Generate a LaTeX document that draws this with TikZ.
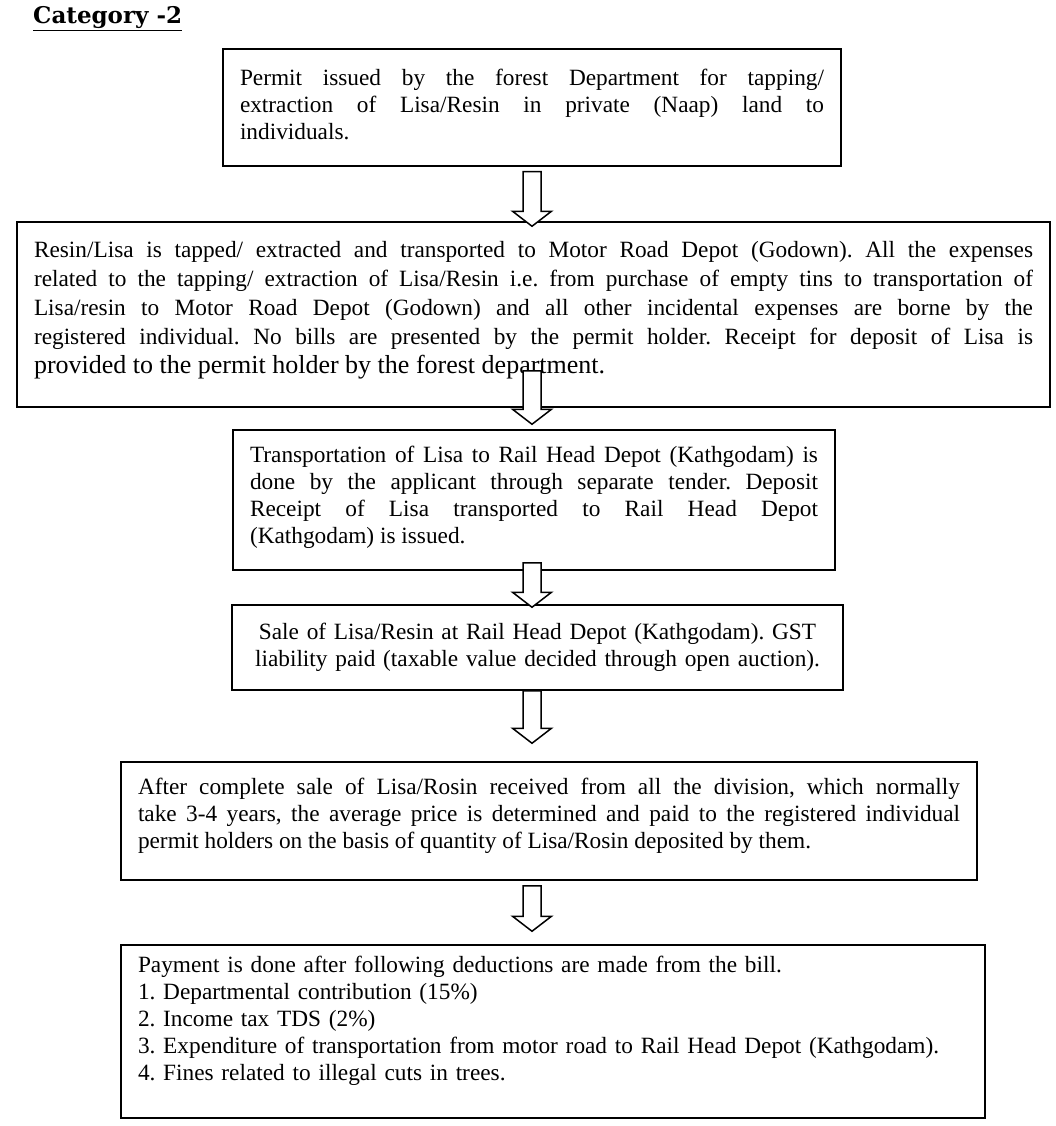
\documentclass[tikz,border=0pt]{standalone}
\usepackage{fontspec}
\setmainfont{Liberation Serif}
\newfontfamily\headingfont{DejaVu Serif}
\usetikzlibrary{calc,positioning}

\hyphenpenalty=10000
\tolerance=10000
\frenchspacing

% empty space under the last line of a box
\newcommand{\tail}[1]{\par\vspace{#1}\hrule height 0pt width 0pt}
% hollow block arrow from #2 down to the tip #3
\newcommand{\blockarrow}[3][flowArrow]{%
    \draw[#1] let \p1=(#2), \p2=(#3) in
        (\x2-9pt,\y1) -- (\x2-9pt,\y2+15pt) -- (\x2-19.5pt,\y2+15pt) -- (\x2,\y2)
        -- (\x2+19.5pt,\y2+15pt) -- (\x2+9pt,\y2+15pt) -- (\x2+9pt,\y1) -- cycle;}

\begin{document}
\begin{tikzpicture}[x=1pt,y=-1pt]

    \tikzstyle{commonBox}=[draw=black, line width=1.5pt, inner xsep=17pt, inner ysep=0pt, align=justify, font=\fontsize{23.3}{27}\selectfont]
    \tikzstyle{flowArrow}=[draw=black, fill=white, line width=1.5pt, line join=miter]
    \tikzstyle{heading}=[inner sep=0pt, anchor=base west, font=\fontsize{23}{28}\selectfont\headingfont\bfseries]

    \useasboundingbox (0,0) rectangle (1056,1126);

    % Title
    \node at (33, 24) [heading] (title) {\underline{Category -2}};

    % Steps
    \node at (532, 107.5)   [commonBox, text width=584pt, minimum height=117pt] (PI)
        {Permit issued by the forest Department for tapping/\linebreak extraction of Lisa/Resin in private (Naap) land to\linebreak individuals.\tail{6pt}};
    \node at (533.5, 314.5) [commonBox, text width=999pt, minimum height=185pt, font=\fontsize{23.3}{29}\selectfont] (TE)
        {Resin/Lisa is tapped/ extracted and transported to Motor Road Depot (Godown). All the expenses\linebreak related to the tapping/ extraction of Lisa/Resin i.e. from purchase of empty tins to transportation of\linebreak Lisa/resin to Motor Road Depot (Godown) and all other incidental expenses are borne by the\linebreak registered individual. No bills are presented by the permit holder. Receipt for deposit of Lisa is\linebreak {\fontsize{26}{29}\selectfont provided to the permit holder by the forest department.}\tail{8pt}};
    \node at (534, 500)     [commonBox, text width=568pt, minimum height=140pt] (TR)
        {Transportation of Lisa to Rail Head Depot (Kathgodam) is\linebreak done by the applicant through separate tender. Deposit\linebreak Receipt of Lisa transported to Rail Head Depot\linebreak (Kathgodam) is issued.\tail{6pt}};
    \node at (537.5, 647.5) [commonBox, text width=577pt, minimum height=85pt, align=center] (SL)
        {Sale of Lisa/Resin at Rail Head Depot (Kathgodam). GST\\ liability paid (taxable value decided through open auction).};
    \node at (549, 821)     [commonBox, text width=822pt, minimum height=118pt] (AP)
        {After complete sale of Lisa/Rosin received from all the division, which normally\linebreak take 3-4 years, the average price is determined and paid to the registered individual\linebreak permit holders on the basis of quantity of Lisa/Rosin deposited by them.\tail{10pt}};
    \node at (553, 1031.5)  [commonBox, text width=830pt, minimum height=173pt, align=left] (PD)
        {Payment is done after following deductions are made from the bill.\\
         1. Departmental contribution (15\%)\\
         2. Income tax TDS (2\%)\\
         3. Expenditure of transportation from motor road to Rail Head Depot (Kathgodam).\\
         4. Fines related to illegal cuts in trees.\tail{22pt}};

    % Arrows
    \coordinate (axis) at (532, 0);
    \blockarrow{$(PI.south -| axis)+(0,5)$}{$(TE.north -| axis)+(0,5)$}
    \blockarrow{$(TE.south -| axis)+(0,-37)$}{$(TR.north -| axis)+(0,-5)$}
    \blockarrow{$(TR.south -| axis)+(0,-8)$}{$(SL.north -| axis)+(0,3)$}
    \blockarrow{SL.south -| axis}{$(AP.north -| axis)+(0,-18)$}
    \blockarrow{$(AP.south -| axis)+(0,5)$}{$(PD.north -| axis)+(0,-13)$}

\end{tikzpicture}
\end{document}
